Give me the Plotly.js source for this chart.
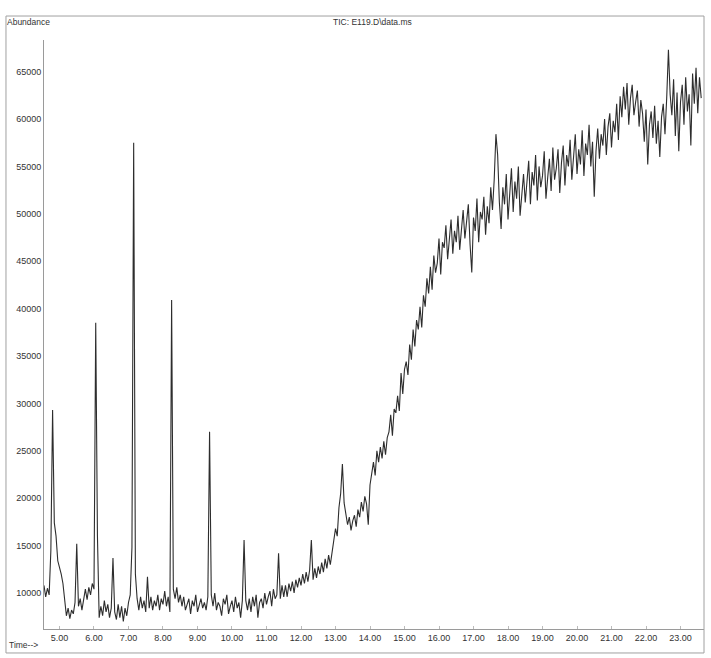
<!DOCTYPE html>
<html>
<head>
<meta charset="utf-8">
<script src="https://cdn.plot.ly/plotly-3.0.1.min.js"></script>
<style>html,body{margin:0;padding:0;background:#fff;}#chart{width:711px;height:658px;}</style>
</head>
<body>
<div id="chart"></div>
<script>
// Sampling of the TIC trace (minutes)
const timeStart = 4.55;
const timeStep = 0.05;

// Abundance values, one array per minute block (X.55 .. X+1.50)
const a05 = [10800, 9600, 10500, 9800, 14500, 29300, 17400, 16000, 13400, 12800, 12000, 11000, 9200, 7600, 8400, 7300, 8200, 7800, 9000, 15200];
const a06 = [8600, 9400, 8200, 9600, 10400, 9300, 10600, 9800, 11000, 10400, 38500, 16000, 7400, 8600, 7600, 9200, 8000, 8800, 7400, 8400];
const a07 = [13700, 8000, 7200, 8800, 7400, 8600, 7000, 8400, 7600, 9000, 9800, 14800, 57500, 12000, 9400, 8200, 9600, 8400, 9200, 8000];
const a08 = [11700, 8400, 9600, 8200, 9200, 8600, 9800, 8200, 9400, 8800, 10200, 8600, 9600, 8000, 40900, 10400, 9400, 10600, 9000, 9800];
const a09 = [8600, 9600, 8200, 8800, 9400, 7800, 9200, 8600, 9800, 8000, 8800, 9400, 8400, 9000, 8200, 9600, 27000, 9800, 8600, 10000];
const a10 = [8200, 9000, 8600, 7600, 9400, 8800, 9800, 7800, 8600, 9200, 8000, 9600, 8400, 9000, 7400, 9200, 15600, 9200, 8200, 9400];
const a11 = [8000, 9600, 8600, 9800, 7400, 9000, 9400, 8400, 10000, 8800, 9600, 10200, 8600, 10400, 9400, 9800, 14200, 9400, 10800, 9600];
const a12 = [10800, 9600, 11000, 10200, 11200, 10000, 11400, 10600, 11600, 10800, 12000, 11000, 12200, 11200, 12400, 15600, 11400, 12600, 11600, 12800];
const a13 = [12000, 13200, 12200, 13600, 12600, 14000, 13000, 14400, 15200, 16800, 16000, 19000, 20500, 23600, 19500, 18200, 17200, 18000, 16600, 17600];
const a14 = [18200, 17000, 18800, 18000, 19600, 18600, 20200, 19400, 17200, 21400, 22600, 23800, 22400, 25000, 23800, 25400, 24200, 26000, 24600, 26400];
const a15 = [27000, 28800, 26600, 29400, 29000, 30800, 29200, 33200, 31000, 33600, 34400, 33000, 36200, 34600, 37800, 36000, 38800, 37800, 40200, 38000];
const a16 = [41400, 40200, 43200, 41600, 44400, 42000, 45600, 43800, 44800, 47400, 43600, 47000, 46400, 48800, 45200, 47600, 49400, 45800, 48200, 47000];
const a17 = [49800, 46200, 48600, 50400, 47400, 49000, 51000, 46800, 43800, 49600, 48200, 51600, 47000, 50200, 49400, 51800, 47800, 50800, 49000, 52800];
const a18 = [50400, 53600, 58400, 56200, 51200, 48400, 52800, 51000, 54200, 49400, 52000, 54800, 50200, 53400, 51600, 55000, 49800, 52600, 54200, 51200];
const a19 = [53800, 55600, 51000, 54400, 53000, 56200, 51400, 55000, 52800, 54000, 56600, 51600, 53800, 55800, 52400, 57000, 53600, 54800, 56800, 52200];
const a20 = [55400, 57200, 53000, 56200, 55000, 57800, 53600, 56000, 58400, 54200, 56800, 55200, 58800, 54000, 57400, 56200, 59400, 55000, 57600, 51800];
const a21 = [56600, 59000, 55800, 58400, 57200, 60000, 56200, 59200, 60600, 57000, 59800, 58600, 61600, 57800, 62400, 60200, 63400, 61000, 63800, 59400];
const a22 = [62200, 63600, 60400, 61800, 63000, 59200, 62000, 60600, 57600, 61000, 55200, 59400, 60800, 58000, 61400, 57400, 59800, 56000, 60200, 61600];
const a23 = [58400, 62200, 67300, 62600, 60400, 64200, 58200, 62800, 56600, 61800, 63600, 59400, 64400, 60800, 62600, 57200, 64800, 61600, 65400, 60600];
const a24 = [64400, 62200];

const abundance = [].concat(a05, a06, a07, a08, a09, a10, a11, a12, a13, a14, a15, a16, a17, a18, a19, a20, a21, a22, a23, a24);

const titleText = "TIC: E119.D\\data.ms";
const yLabel = "Abundance";
const xLabel = "Time-->";

const FONT = "'Liberation Sans Narrow', 'Liberation Sans', Arial, sans-serif";

const trace = {
  type: 'scatter',
  mode: 'lines',
  y: abundance,
  x0: timeStart,
  dx: timeStep,
  line: {color: 'rgba(22,22,22,0.9)', width: 1.1},
  hoverinfo: 'skip',
  showlegend: false
};

const layout = {
  width: 711,
  height: 658,
  margin: {l: 44, r: 7, t: 40, b: 29, pad: 0},
  paper_bgcolor: '#ffffff',
  plot_bgcolor: '#ffffff',
  font: {family: FONT, size: 9, color: '#333'},
  showlegend: false,
  xaxis: {
    range: [4.551, 23.681],
    tickmode: 'linear', tick0: 5, dtick: 1, tickformat: '.2f',
    showgrid: false, zeroline: false,
    showline: true, linecolor: '#9a9a9a', linewidth: 1,
    ticks: 'inside', ticklen: 3, tickcolor: '#bbb',
    tickfont: {family: FONT, size: 9, color: '#333'}
  },
  yaxis: {
    range: [6203, 68334],
    tickmode: 'linear', tick0: 10000, dtick: 5000, tickformat: 'd',
    showgrid: false, zeroline: false,
    showline: true, linecolor: '#9a9a9a', linewidth: 1,
    ticks: '',
    tickfont: {family: FONT, size: 9, color: '#333'}
  },
  shapes: [
    {type: 'rect', xref: 'paper', yref: 'paper', x0: -0.0576, x1: 1.0, y0: -0.0407, y1: 1.0407,
     line: {color: '#a0a0a0', width: 1}, fillcolor: 'rgba(0,0,0,0)'}
  ],
  annotations: [
    {text: yLabel, xref: 'paper', yref: 'paper', x: -0.059, y: 1.0306, xanchor: 'left', yanchor: 'middle',
     showarrow: false, font: {family: FONT, size: 8.5, color: '#333'}},
    {text: titleText, xref: 'paper', yref: 'paper', x: 0.497, y: 1.0306, xanchor: 'center', yanchor: 'middle',
     showarrow: false, font: {family: FONT, size: 8.5, color: '#333'}},
    {text: xLabel, xref: 'paper', yref: 'paper', x: -0.0560, y: -0.027, xanchor: 'left', yanchor: 'middle',
     showarrow: false, font: {family: FONT, size: 8.5, color: '#333'}}
  ]
};

Plotly.newPlot('chart', [trace], layout, {displayModeBar: false, staticPlot: true});
</script>
</body>
</html>
